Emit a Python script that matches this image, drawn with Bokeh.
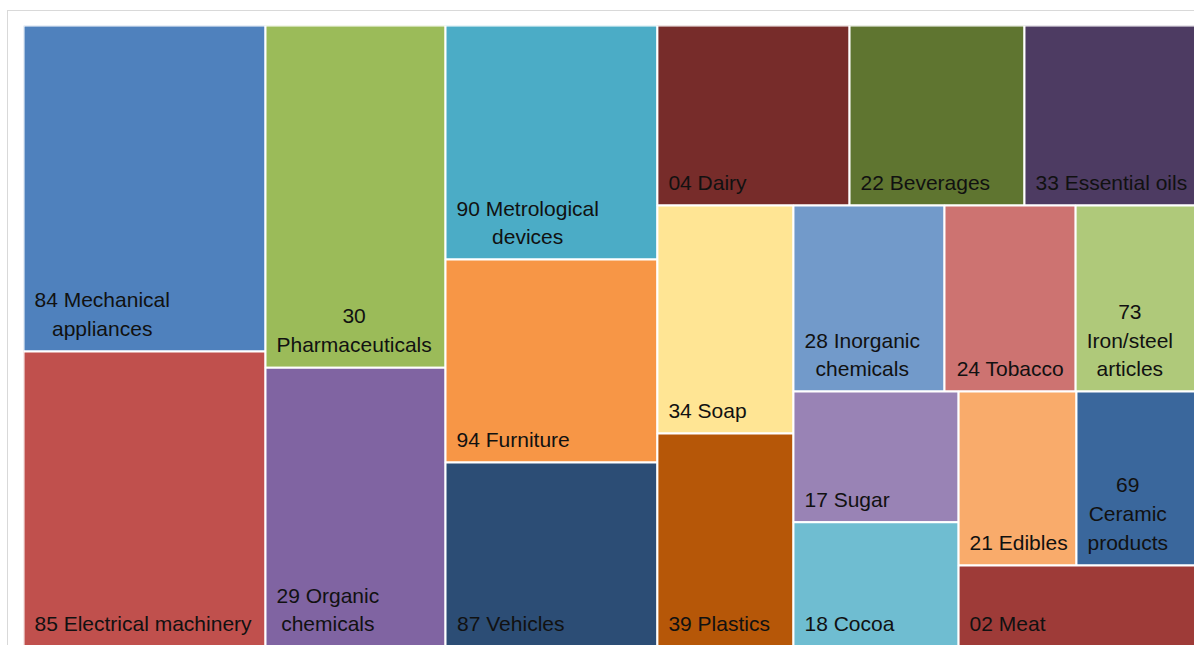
from bokeh.plotting import figure
from bokeh.models import Range1d, ColumnDataSource
from bokeh.core.properties import value
from bokeh.embed import file_html
from bokeh.resources import INLINE

# ---- data (descending order, as laid out) ----
codes = ["84", "85", "30", "29", "90", "94", "87", "04", "22", "33",
         "34", "39", "28", "24", "73", "17", "18", "21", "69", "02"]
label_lines = [
    ["84 Mechanical", "appliances"],
    ["85 Electrical machinery"],
    ["30", "Pharmaceuticals"],
    ["29 Organic", "chemicals"],
    ["90 Metrological", "devices"],
    ["94 Furniture"],
    ["87 Vehicles"],
    ["04 Dairy"],
    ["22 Beverages"],
    ["33 Essential oils"],
    ["34 Soap"],
    ["39 Plastics"],
    ["28 Inorganic", "chemicals"],
    ["24 Tobacco"],
    ["73", "Iron/steel", "articles"],
    ["17 Sugar"],
    ["18 Cocoa"],
    ["21 Edibles"],
    ["69", "Ceramic", "products"],
    ["02 Meat"],
]
values = [78.9, 71.4, 61.6, 50.2, 49.6, 43.0, 39.0, 34.6, 31.5, 30.8,
          31.0, 29.0, 28.1, 24.4, 22.3, 21.6, 20.5, 20.5, 20.7, 19.2]
colors = ["#4F81BD", "#C0504D", "#9BBB59", "#8064A2", "#4BACC6", "#F79646",
          "#2C4D75", "#772C2A", "#5F7530", "#4D3B62", "#FFE594", "#B65708",
          "#729ACA", "#CD7371", "#AFC97A", "#9983B5", "#6FBDD1", "#F9AB6B",
          "#3A679C", "#9E3B38"]
# number of tiles in each strip of the squarified layout
strip_sizes = [2, 2, 3, 3, 2, 3, 2, 2, 1]

# ---- layout ----
FIG_W, FIG_H = 1187, 635
ML, MT = 15, 14
W, H = float(FIG_W - ML), float(FIG_H - MT)
FONT = "Liberation Sans"
FS = 21

total = sum(values)
areas = [v / total * W * H for v in values]

lefts, rights, tops, bottoms = [], [], [], []
x0, y0, w, h = 0.0, 0.0, W, H
i = 0
for k in strip_sizes:
    grp = areas[i:i + k]
    s = sum(grp)
    if w >= h:
        cw = s / h
        yy = y0
        for a in grp:
            hh = a / cw
            lefts.append(x0); rights.append(x0 + cw)
            tops.append(yy); bottoms.append(yy + hh)
            yy += hh
        x0 += cw
        w -= cw
    else:
        rh = s / w
        xx = x0
        for a in grp:
            ww = a / rh
            lefts.append(xx); rights.append(xx + ww)
            tops.append(y0); bottoms.append(y0 + rh)
            xx += ww
        y0 += rh
        h -= rh
    i += k

# Arial / Liberation Sans advance widths (per 1000 em)
AW = {' ': 278, '/': 278, 'a': 556, 'b': 556, 'c': 500, 'd': 556, 'e': 556,
      'f': 278, 'g': 556, 'h': 556, 'i': 222, 'j': 222, 'k': 500, 'l': 222,
      'm': 833, 'n': 556, 'o': 556, 'p': 556, 'q': 556, 'r': 333, 's': 500,
      't': 278, 'u': 556, 'v': 500, 'w': 722, 'x': 500, 'y': 500, 'z': 500,
      'A': 667, 'B': 667, 'C': 722, 'D': 722, 'E': 667, 'F': 611, 'I': 278,
      'M': 833, 'O': 778, 'P': 667, 'S': 667, 'T': 611, 'V': 667}


def tw(s):
    return sum(AW.get(c, 556) for c in s) * FS / 1000.0


tx, ty, tt = [], [], []
PAD = 11
LAST = 23
STEP = 28.5
for j, lines in enumerate(label_lines):
    n = len(lines)
    bw = max(tw(s) for s in lines)
    cx = lefts[j] + PAD + bw / 2
    for m, s in enumerate(lines):
        tx.append(cx)
        ty.append(bottoms[j] - LAST - (n - 1 - m) * STEP)
        tt.append(s)

p = figure(width=FIG_W, height=FIG_H, output_backend="svg", toolbar_location=None,
           x_range=Range1d(0, W), y_range=Range1d(H, 0),
           x_axis_location=None, y_axis_location=None,
           min_border_left=ML, min_border_top=MT, min_border_right=0,
           min_border_bottom=0)
p.grid.visible = False
p.outline_line_color = None
p.background_fill_color = "white"
p.border_fill_color = "white"

src = ColumnDataSource(dict(left=lefts, right=rights, top=tops, bottom=bottoms,
                            color=colors, code=codes))
p.quad(left="left", right="right", top="top", bottom="bottom", source=src,
       fill_color="color", line_color="white", line_width=2)

tsrc = ColumnDataSource(dict(x=tx, y=ty, t=tt))
p.text(x="x", y="y", text="t", source=tsrc, text_align="center",
       text_baseline="middle", text_font=value(FONT),
       text_font_size=value(f"{FS}px"), text_color="#111111")

p.styles = {"border-left": "1px solid #d9d9d9", "border-top": "1px solid #d9d9d9",
            "margin-left": "7px", "margin-top": "10px"}

open("out.html", "w").write(file_html(p, INLINE))
